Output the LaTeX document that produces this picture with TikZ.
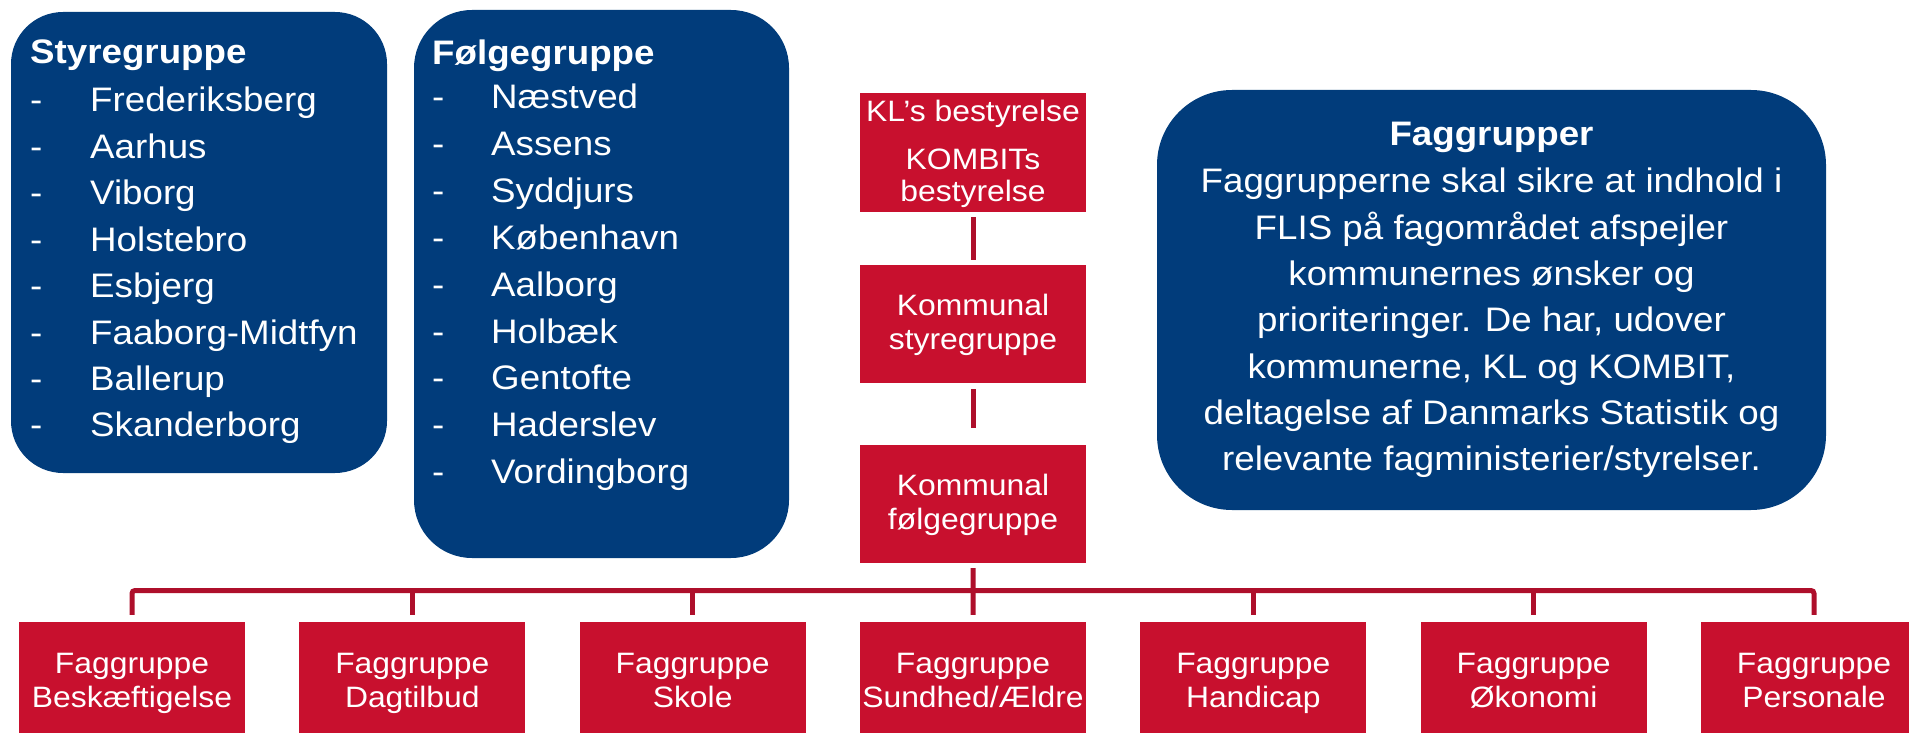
\documentclass[tikz,border=0pt]{standalone}
\usepackage{fontspec}
\setmainfont[FakeStretch=1.08]{Liberation Sans}
\definecolor{kblue}{HTML}{013C7B}
\definecolor{kred}{HTML}{C8102E}
\definecolor{kdark}{HTML}{AE0F2B}
\begin{document}
\begin{tikzpicture}[x=1pt,y=-1pt,
  bluebox/.style={fill=kblue, draw=none, rounded corners=#1, inner sep=0pt},
  redbox/.style={fill=kred, draw=none, inner sep=0pt, minimum width=226pt,
    text=white, align=center, font=\fontsize{29.5}{34}\selectfont},
  listtxt/.style={text=white, inner sep=0pt, anchor=base west, font=\fontsize{34}{46.5}\selectfont},
  fagtxt/.style={text=white, inner sep=0pt, anchor=base, font=\fontsize{34}{46.5}\selectfont},
  conn/.style={draw=kdark, line width=5pt}]
\useasboundingbox (0,0) rectangle (1909,733);
\clip (0,0) rectangle (1909,733);

% blue boxes
\node[bluebox=52pt, minimum width=376pt, minimum height=461pt] (sty) at (199,242.5) {};
\node[bluebox=58pt, minimum width=375pt, minimum height=548pt] (flg) at (601.5,284) {};
\node[bluebox=75pt, minimum width=669pt, minimum height=420pt] (fag) at (1491.5,300) {};

% Styregruppe list
\node[listtxt, font=\fontsize{34}{46.5}\selectfont\bfseries] (st0) at (30,64) {Styregruppe};
\foreach \t [count=\i] in {Frederiksberg,Aarhus,Viborg,Holstebro,Esbjerg,Faaborg-Midtfyn,Ballerup,Skanderborg}{
  \node[listtxt] (sd\i) at (30,{112+46.4*(\i-1)}) {-};
  \node[listtxt] (st\i) at (90,{112+46.4*(\i-1)}) {\t};
}

% Foelgegruppe list
\node[listtxt, font=\fontsize{34}{46.5}\selectfont\bfseries] (fl0) at (432,65) {Følgegruppe};
\foreach \t [count=\i] in {Næstved,Assens,Syddjurs,København,Aalborg,Holbæk,Gentofte,Haderslev,Vordingborg}{
  \node[listtxt] (fd\i) at (432,{109+46.8*(\i-1)}) {-};
  \node[listtxt] (fl\i) at (491,{109+46.8*(\i-1)}) {\t};
}

% Faggrupper text
\node[fagtxt, font=\fontsize{34}{46.5}\selectfont\bfseries] (fg0) at (1491.5,146) {Faggrupper};
\foreach \t [count=\i] in {{Faggrupperne skal sikre at indhold i},{FLIS på fagområdet afspejler},{kommunernes ønsker og},{prioriteringer. De har, udover},{kommunerne, KL og KOMBIT,},{deltagelse af Danmarks Statistik og},{relevante fagministerier/styrelser.}}{
  \node[fagtxt] (fg\i) at (1491.5,{193+46.3*(\i-1)}) {\t};
}

% central red boxes
\node[redbox, minimum height=119pt] (kl) at (973,152.5)
  {\rule{0pt}{26pt}KL’s bestyrelse\\[14pt]KOMBITs\\[-2pt]bestyrelse\rule[-8pt]{0pt}{8pt}};
\node[redbox, minimum height=118pt] (ks) at (973,324) {\rule{0pt}{27pt}Kommunal\\\strut styregruppe};
\node[redbox, minimum height=118pt] (kf) at (973,504) {\rule{0pt}{27pt}Kommunal\\\strut følgegruppe};

% bottom boxes
\foreach \t [count=\i] in {Beskæftigelse,Dagtilbud,Skole,Sundhed/Ældre,Handicap,Økonomi,Personale}{
  \node[redbox, minimum height=124pt] (f\i) at ({132+280.33*(\i-1)},684) {\strut Faggruppe\\\strut \t};
}

% connectors
\coordinate (bus) at (973,590.5);
\draw[conn, shorten <=5pt, shorten >=5pt] (kl.south) -- (ks.north);
\draw[conn, shorten <=6pt, shorten >=17pt] (ks.south) -- (kf.north);
\draw[conn, shorten <=5pt] (kf.south) -- ([yshift=7pt]f4.north);
\draw[conn, rounded corners=3pt] ([yshift=7pt]f1.north) |- (bus) -| ([yshift=7pt]f7.north);
\foreach \i in {2,3,5,6}{
  \draw[conn] ([yshift=7pt]f\i.north) -- (f\i.north |- bus);
}
\end{tikzpicture}
\end{document}
